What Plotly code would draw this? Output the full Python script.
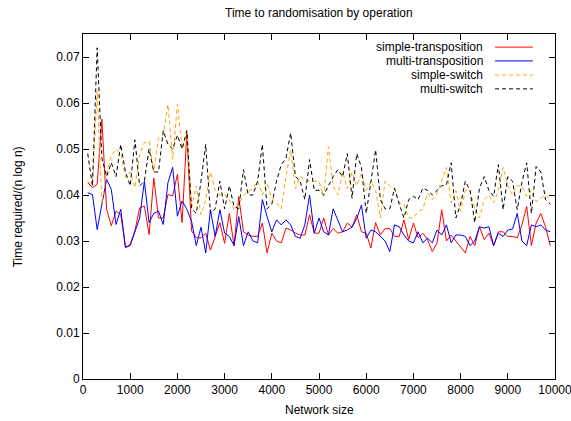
import plotly.graph_objects as go

network_size = list(range(100, 10000, 100))

simple_transposition = [
    0.0427, 0.0416, 0.0423, 0.0565, 0.0369, 0.0333, 0.0365, 0.0358, 0.0286, 0.0293,
    0.0322, 0.0372, 0.0376, 0.0314, 0.0437, 0.035, 0.035, 0.0401, 0.0398, 0.0445,
    0.034, 0.0536, 0.0322, 0.0307, 0.0307,
    0.0317, 0.028, 0.031, 0.034, 0.0295, 0.036, 0.029, 0.0396, 0.032, 0.0313,
    0.031, 0.031, 0.0339, 0.0274, 0.0317, 0.030, 0.0296, 0.0328, 0.0324, 0.0317,
    0.0313, 0.0313, 0.0357, 0.0317, 0.0317,
    0.035, 0.0313, 0.0327, 0.0317, 0.032, 0.0339, 0.033, 0.0357, 0.032, 0.0317,
    0.0285, 0.034, 0.0313, 0.0327, 0.0327, 0.031, 0.031, 0.0346, 0.0303, 0.0339,
    0.0307, 0.0317, 0.0303, 0.0277, 0.0295,
    0.0368, 0.030, 0.0313, 0.030, 0.0285, 0.0274, 0.031, 0.029, 0.0331, 0.0303,
    0.0317, 0.029, 0.032, 0.032, 0.031, 0.031, 0.0307, 0.0335, 0.0375, 0.029,
    0.0339, 0.036, 0.033, 0.029,
]

multi_transposition = [
    0.0405, 0.0401, 0.0325, 0.038, 0.0434, 0.0412, 0.0336, 0.0369, 0.0286, 0.029,
    0.0319, 0.035, 0.043, 0.034, 0.036, 0.0365, 0.0336, 0.0427, 0.046, 0.0354,
    0.0387, 0.0369, 0.0343, 0.029, 0.033,
    0.0274, 0.0368, 0.031, 0.0368, 0.0317, 0.031, 0.029, 0.0353, 0.029, 0.032,
    0.030, 0.0296, 0.039, 0.0353, 0.032, 0.0346, 0.0335, 0.0346, 0.0335, 0.031,
    0.0306, 0.0335, 0.040, 0.0317, 0.035,
    0.032, 0.0313, 0.037, 0.0346, 0.032, 0.0324, 0.033, 0.0349, 0.0378, 0.0306,
    0.0324, 0.032, 0.031, 0.030, 0.0277, 0.0335, 0.0331, 0.0313, 0.030, 0.0296,
    0.032, 0.0296, 0.0306, 0.0296, 0.0324,
    0.0313, 0.0335, 0.0296, 0.0313, 0.0313, 0.031, 0.029, 0.030, 0.0331, 0.0328,
    0.0331, 0.029, 0.0317, 0.031, 0.0324, 0.0326, 0.036, 0.030, 0.029, 0.0335,
    0.0331, 0.0335, 0.0324, 0.032,
]

simple_switch = [
    0.043, 0.042, 0.0626, 0.038, 0.0445, 0.0485, 0.050, 0.049, 0.0438, 0.045,
    0.0416, 0.0488, 0.0514, 0.0517, 0.045, 0.0525, 0.053, 0.0597, 0.0478, 0.0597,
    0.050, 0.0536, 0.0372, 0.042, 0.0357,
    0.039, 0.045, 0.041, 0.040, 0.040, 0.039, 0.0368, 0.038, 0.040, 0.0407,
    0.0414, 0.043, 0.040, 0.0425, 0.0393, 0.0383, 0.037, 0.044, 0.0498, 0.0414,
    0.044, 0.0433, 0.043, 0.043, 0.043,
    0.0397, 0.0505, 0.042, 0.040, 0.045, 0.0414, 0.045, 0.042, 0.0447, 0.041,
    0.043, 0.041, 0.035, 0.043, 0.042, 0.0414, 0.0383, 0.038, 0.035, 0.035,
    0.0364, 0.037, 0.0404, 0.039, 0.0404,
    0.0433, 0.046, 0.0383, 0.041, 0.0364, 0.041, 0.041, 0.037, 0.035, 0.039,
    0.040, 0.0383, 0.041, 0.046, 0.042, 0.040, 0.042, 0.042, 0.0397, 0.041,
    0.0386, 0.0393, 0.040, 0.039,
]

multi_switch = [
    0.049, 0.042, 0.072, 0.048, 0.044, 0.047, 0.044, 0.051, 0.045, 0.042,
    0.052, 0.042, 0.043, 0.050, 0.045, 0.045, 0.054, 0.051, 0.050, 0.053,
    0.050, 0.054, 0.037, 0.036, 0.043,
    0.051, 0.036, 0.037, 0.043, 0.037, 0.042, 0.0375, 0.037, 0.0455, 0.040,
    0.040, 0.043, 0.051, 0.037, 0.038, 0.043, 0.0466, 0.048, 0.0535, 0.044,
    0.043, 0.039, 0.0477, 0.041, 0.041,
    0.040, 0.042, 0.044, 0.0455, 0.044, 0.049, 0.0393, 0.049, 0.046, 0.036,
    0.043, 0.0498, 0.039, 0.037, 0.037, 0.0415, 0.038, 0.035, 0.039, 0.0397,
    0.039, 0.0415, 0.041, 0.040, 0.041,
    0.042, 0.0422, 0.047, 0.035, 0.038, 0.043, 0.041, 0.034, 0.0415, 0.044,
    0.041, 0.0397, 0.0466, 0.0368, 0.044, 0.043, 0.0368, 0.0428, 0.047, 0.036,
    0.0462, 0.045, 0.039, 0.038,
]

series_names = ["simple-transposition", "multi-transposition", "simple-switch", "multi-switch"]
series_values = [simple_transposition, multi_transposition, simple_switch, multi_switch]
series_colors = ["#ff0000", "#0000ff", "#ffa500", "#000000"]
series_dash = ["solid", "solid", "4px,3px", "4px,3px"]

x_ticks = list(range(0, 10001, 1000))
y_ticks = [0, 0.01, 0.02, 0.03, 0.04, 0.05, 0.06, 0.07]

FONT = "Liberation Sans, Arial, sans-serif"

fig = go.Figure()
for name, vals, col, dash in zip(series_names, series_values, series_colors, series_dash):
    fig.add_trace(go.Scatter(
        x=network_size, y=vals, mode="lines", name=name,
        line=dict(color=col, width=1, dash=dash),
        showlegend=False, hoverinfo="skip",
    ))

# gnuplot-style legend: right-aligned text, sample line to the right
row_y = [0.962, 0.922, 0.881, 0.841]
for name, col, dash, yy in zip(series_names, series_colors, series_dash, row_y):
    fig.add_annotation(
        x=0.852, y=yy, xref="paper", yref="paper", text=name, showarrow=False,
        xanchor="right", yanchor="middle", font=dict(family=FONT, size=12, color="#000000"),
    )
    fig.add_shape(
        type="line", xref="paper", yref="paper", x0=0.873, x1=0.953, y0=yy, y1=yy,
        line=dict(color=col, width=1, dash=dash),
    )

# title and axis titles as paper annotations (fixed positions)
fig.add_annotation(x=0.5, y=1.062, xref="paper", yref="paper", text="Time to randomisation by operation",
                   showarrow=False, font=dict(family=FONT, size=12), xanchor="center", yanchor="middle")
fig.add_annotation(x=0.5, y=-0.090, xref="paper", yref="paper", text="Network size",
                   showarrow=False, font=dict(family=FONT, size=12), xanchor="center", yanchor="middle")
fig.add_annotation(x=-0.138, y=0.5, xref="paper", yref="paper", text="Time required/(n log n)",
                   showarrow=False, textangle=-90, font=dict(family=FONT, size=12),
                   xanchor="center", yanchor="middle")

fig.update_layout(
    width=571, height=421,
    margin=dict(l=83, r=16, t=34, b=42, autoexpand=False),
    paper_bgcolor="white", plot_bgcolor="white",
    font=dict(family=FONT, size=12, color="#000000"),
    hovermode=False,
)
fig.update_xaxes(
    range=[0, 10000], tickvals=x_ticks, ticktext=[str(v) for v in x_ticks],
    ticks="inside", ticklen=6, tickwidth=1, tickcolor="#000000",
    showline=True, linecolor="#000000", linewidth=1, mirror="ticks",
    showgrid=False, zeroline=False, automargin=False, ticklabeloverflow="allow",
)
fig.update_yaxes(
    range=[0, 0.075], tickvals=y_ticks, ticktext=[("0" if v == 0 else f"{v:.2f}") for v in y_ticks],
    ticks="inside", ticklen=6, tickwidth=1, tickcolor="#000000",
    showline=True, linecolor="#000000", linewidth=1, mirror="ticks",
    showgrid=False, zeroline=False, automargin=False, ticklabeloverflow="allow",
)

# remove the default 8px page margin so the figure fills the window exactly
fig.write_html(
    "out.html",
    config={"displayModeBar": False, "staticPlot": True},
    post_script="document.body.style.margin='0';document.body.style.overflow='hidden';",
)
